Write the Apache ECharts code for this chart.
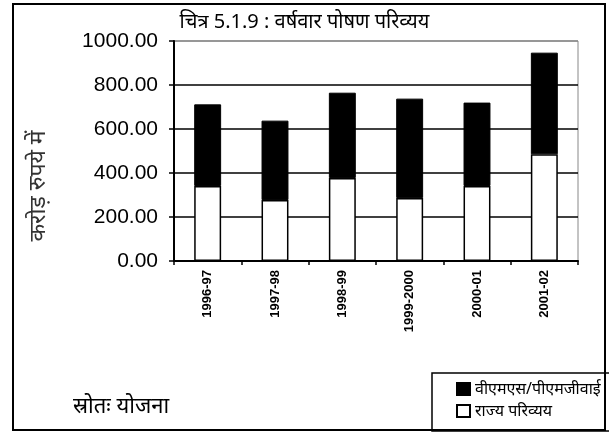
<!DOCTYPE html>
<html>
<head>
<meta charset="utf-8">
<script src="https://cdn.jsdelivr.net/npm/echarts@6/dist/echarts.min.js"></script>
<style>
html,body{margin:0;padding:0;background:#fff;}
#c{width:609px;height:432px;}
</style>
</head>
<body>
<div id="c"></div>
<script>
var categories = ['1996-97', '1997-98', '1998-99', '1999-2000', '2000-01', '2001-02'];
var stateOutlay = [341, 277, 377, 286, 341, 485];
var vmsPmgy = [371, 361, 388, 452, 379, 462];
var seriesNames = ['वीएमएस/पीएमजीवाई', 'राज्य परिव्यय'];
var yMin = 0, yMax = 1000, yStep = 200;
var titleText = 'चित्र 5.1.9 : वर्षवार पोषण परिव्यय';
var yAxisTitle = 'करोड़ रुपये में';
var sourceText = 'स्रोतः योजना';

var chart = echarts.init(document.getElementById('c'));
var dev = '"Noto Sans", "Noto Sans Devanagari", sans-serif';
chart.setOption({
  animation: false,
  backgroundColor: '#fff',
  title: {
    text: titleText,
    left: 'center',
    top: 7,
    padding: [5, 0, 5, 20],
    textStyle: { fontFamily: dev, fontSize: 20, fontWeight: 'normal', color: '#000' }
  },
  legend: {
    data: [seriesNames[0], seriesNames[1]],
    orient: 'vertical',
    left: 432,
    top: 373,
    padding: [8, 20, 12, 24],
    itemGap: 6,
    itemWidth: 13,
    itemHeight: 12,
    icon: 'rect',
    borderColor: '#000',
    borderWidth: 1.5,
    borderRadius: 0,
    backgroundColor: '#fff',
    textStyle: { fontFamily: dev, fontSize: 16, color: '#000' }
  },
  grid: {
    left: 174, right: 31, top: 41, bottom: 171,
    show: true, borderColor: '#888', borderWidth: 1, backgroundColor: 'transparent',
    containLabel: false
  },
  xAxis: {
    type: 'category',
    data: categories,
    boundaryGap: true,
    axisLine: { show: true, lineStyle: { color: '#000', width: 2 } },
    axisTick: { show: true, length: 4, inside: false, lineStyle: { color: '#000', width: 1.5 } },
    axisLabel: {
      rotate: 90, interval: 0, margin: 9,
      fontFamily: 'Liberation Sans, Arial, sans-serif', fontSize: 13, fontWeight: 'bold', color: '#000'
    },
    splitLine: { show: false }
  },
  yAxis: {
    type: 'value',
    min: yMin, max: yMax, interval: yStep,
    axisLine: { show: true, lineStyle: { color: '#000', width: 2 } },
    axisTick: { show: true, length: 5, inside: false, lineStyle: { color: '#000', width: 1.5 } },
    axisLabel: {
      margin: 16,
      formatter: function (v) { return v.toFixed(2); },
      fontFamily: 'Liberation Sans, Arial, sans-serif', fontSize: 21, color: '#000'
    },
    splitLine: { show: true, lineStyle: { color: ['#000', '#000', '#000', '#000', '#000', '#888'], width: 1.5 } }
  },
  series: [
    {
      name: seriesNames[1], type: 'bar', stack: 'total', data: stateOutlay,
      barWidth: '40%',
      itemStyle: { color: '#fff', borderColor: '#000', borderWidth: 1.5 }
    },
    {
      name: seriesNames[0], type: 'bar', stack: 'total', data: vmsPmgy,
      barWidth: '40%',
      itemStyle: { color: '#000', borderColor: '#000', borderWidth: 1 }
    }
  ],
  graphic: [
    {
      type: 'text', x: 38, y: 186, rotation: Math.PI / 2,
      style: { text: yAxisTitle, x: 0, y: 0, align: 'center', verticalAlign: 'middle',
        font: '23px ' + dev, fill: '#333' }
    },
    {
      type: 'text', x: 73, y: 407,
      style: { text: sourceText, x: 0, y: 0, align: 'left', verticalAlign: 'middle',
        font: '22px ' + dev, fill: '#000' }
    },
    {
      type: 'rect', z: 100, silent: true,
      shape: { x: 13, y: 4, width: 592, height: 426 },
      style: { fill: 'none', stroke: '#000', lineWidth: 2 }
    }
  ]
});
</script>
</body>
</html>
